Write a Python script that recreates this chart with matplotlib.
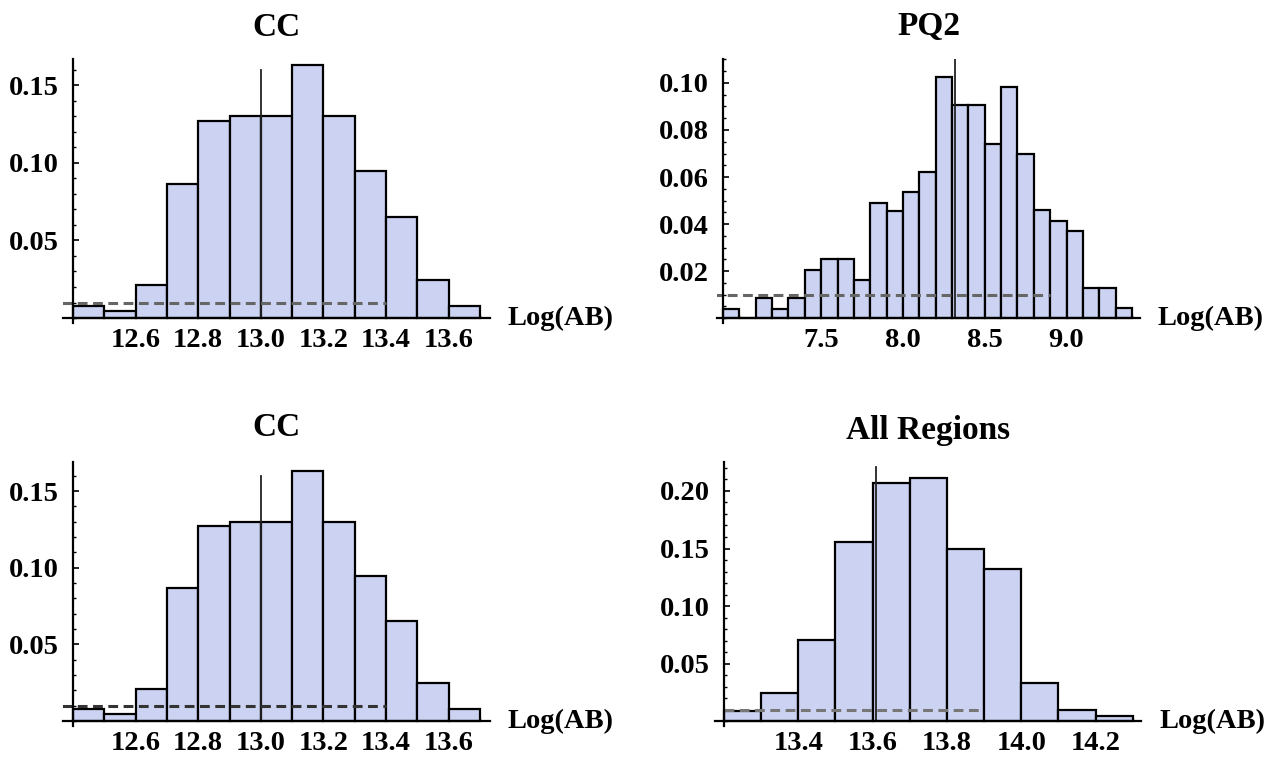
import numpy as np
import matplotlib
matplotlib.use("Agg")
import matplotlib.pyplot as plt
from matplotlib.ticker import MultipleLocator, FixedLocator, FixedFormatter

# ---------------- data ----------------
cc_edges = [12.4, 12.5, 12.6, 12.7, 12.8, 12.9, 13.0, 13.1, 13.2, 13.3, 13.4, 13.5, 13.6, 13.7]
cc_probs = [0.008, 0.0047, 0.021, 0.0865, 0.127, 0.130, 0.130, 0.163, 0.130, 0.0945, 0.0653, 0.0245, 0.008]
cc_marker = 13.0
cc_marker_top = 0.160
cc_thresh_span = [12.365, 13.40]
cc_xticks = [12.6, 12.8, 13.0, 13.2, 13.4, 13.6]
cc_yticks = [0.05, 0.10, 0.15]

pq_edges = [6.9, 7.0, 7.1, 7.2, 7.3, 7.4, 7.5, 7.6, 7.7, 7.8, 7.9, 8.0, 8.1, 8.2, 8.3,
            8.4, 8.5, 8.6, 8.7, 8.8, 8.9, 9.0, 9.1, 9.2, 9.3, 9.4]
pq_probs = [0.004, 0.0, 0.0084, 0.004, 0.0084, 0.0203, 0.025, 0.025, 0.0163, 0.049,
            0.0456, 0.0535, 0.0622, 0.1026, 0.0906, 0.0906, 0.074, 0.0983, 0.070, 0.0459,
            0.0413, 0.0372, 0.013, 0.013, 0.0043]
pq_marker = 8.32
pq_marker_top = 0.110
pq_thresh_span = [6.83, 8.90]
pq_xticks = [7.5, 8.0, 8.5, 9.0]
pq_yticks = [0.02, 0.04, 0.06, 0.08, 0.10]

all_edges = [13.2, 13.3, 13.4, 13.5, 13.6, 13.7, 13.8, 13.9, 14.0, 14.1, 14.2, 14.3]
all_probs = [0.0087, 0.0246, 0.0707, 0.156, 0.207, 0.211, 0.150, 0.1325, 0.033, 0.0093, 0.0043]
all_marker = 13.61
all_marker_top = 0.221
all_thresh_span = [13.2, 13.886]
all_xticks = [13.4, 13.6, 13.8, 14.0, 14.2]
all_yticks = [0.05, 0.10, 0.15, 0.20]

threshold = 0.01
titles = ["CC", "PQ2", "CC", "All Regions"]
xlabel = "Log(AB)"

# ---------------- style ----------------
W, H = 1282, 761
plt.rcParams['font.family'] = ['Liberation Serif', 'DejaVu Serif']
plt.rcParams['font.weight'] = 'bold'
fig = plt.figure(figsize=(W / 100, H / 100), dpi=100)

BAR = '#CCD3F2'

def px_axes(l, r, t, b):
    return fig.add_axes([l / W, (H - b) / H, (r - l) / W, (b - t) / H])

panels = [
    dict(box=(63, 490, 59, 323), edges=cc_edges, probs=cc_probs, marker=cc_marker,
         mtop=cc_marker_top, span=cc_thresh_span, xt=cc_xticks, yt=cc_yticks,
         xlim=(12.368, 13.732), ylim=(-0.0032, 0.1668), xminor=0.05, yminor=0.01,
         xfmt="{:.1f}", yfmt="{:.2f}", dcol='#666666', title_y=27),
    dict(box=(717, 1140, 59, 323), edges=pq_edges, probs=pq_probs, marker=pq_marker,
         mtop=pq_marker_top, span=pq_thresh_span, xt=pq_xticks, yt=pq_yticks,
         xlim=(6.863, 9.449), ylim=(-0.0021, 0.1102), xminor=0.1, yminor=0.005,
         xfmt="{:.1f}", yfmt="{:.2f}", dcol='#666666', title_y=27),
    dict(box=(63, 490, 462, 726), edges=cc_edges, probs=cc_probs, marker=cc_marker,
         mtop=cc_marker_top, span=cc_thresh_span, xt=cc_xticks, yt=cc_yticks,
         xlim=(12.368, 13.732), ylim=(-0.0033, 0.169), xminor=0.05, yminor=0.01,
         xfmt="{:.1f}", yfmt="{:.2f}", dcol='#333333', title_y=428),
    dict(box=(715, 1141, 462, 726), edges=all_edges, probs=all_probs, marker=all_marker,
         mtop=all_marker_top, span=all_thresh_span, xt=all_xticks, yt=all_yticks,
         xlim=(13.176, 14.322), ylim=(-0.0043, 0.2252), xminor=0.05, yminor=0.01,
         xfmt="{:.1f}", yfmt="{:.2f}", dcol='#777777', title_y=431),
]

for p, title in zip(panels, titles):
    l, r, t, b = p['box']
    ax = px_axes(l, r, t, b)
    edges = np.array(p['edges'])
    probs = np.array(p['probs'])
    ax.bar(edges[:-1], probs, width=np.diff(edges), align='edge', color=BAR,
           edgecolor='black', linewidth=1.6, zorder=2)
    ax.plot([p['marker'], p['marker']], [0, p['mtop']], color='#222222', lw=1.3, zorder=3)
    ax.plot(p['span'], [threshold, threshold], color=p['dcol'], lw=2.2,
            linestyle=(0, (3.2, 1.8)), zorder=4)
    ax.set_xlim(*p['xlim'])
    ax.set_ylim(*p['ylim'])
    for s in ('top', 'right'):
        ax.spines[s].set_visible(False)
    ax.spines['left'].set_position(('data', edges[0]))
    ax.spines['bottom'].set_position(('data', 0))
    for s in ('left', 'bottom'):
        ax.spines[s].set_linewidth(1.6)
        ax.spines[s].set_zorder(5)
    ax.xaxis.set_major_locator(FixedLocator(p['xt']))
    ax.xaxis.set_major_formatter(FixedFormatter([p['xfmt'].format(v) for v in p['xt']]))
    ax.yaxis.set_major_locator(FixedLocator(p['yt']))
    ax.yaxis.set_major_formatter(FixedFormatter([p['yfmt'].format(v) for v in p['yt']]))
    ax.xaxis.set_minor_locator(MultipleLocator(p['xminor']))
    ax.yaxis.set_minor_locator(MultipleLocator(p['yminor']))
    ax.tick_params(which='major', direction='in', length=4.5, width=1.2,
                   labelsize=20.5, pad=7)
    ax.tick_params(axis='y', which='major', pad=10)
    ax.tick_params(which='minor', direction='in', length=2.5, width=1.0)
    ax.patch.set_alpha(0)
    # axis label to the right of the x-axis
    ax.text((r + 18 - l) / (r - l), -p['ylim'][0] / (p['ylim'][1] - p['ylim'][0]),
            xlabel, transform=ax.transAxes, ha='left', va='center',
            fontsize=20.5, fontweight='bold')
    fig.text(((l + r) / 2) / W, 1 - p['title_y'] / H, title, ha='center', va='center',
             fontsize=24, fontweight='bold')

fig.savefig("out.png", dpi=100)
